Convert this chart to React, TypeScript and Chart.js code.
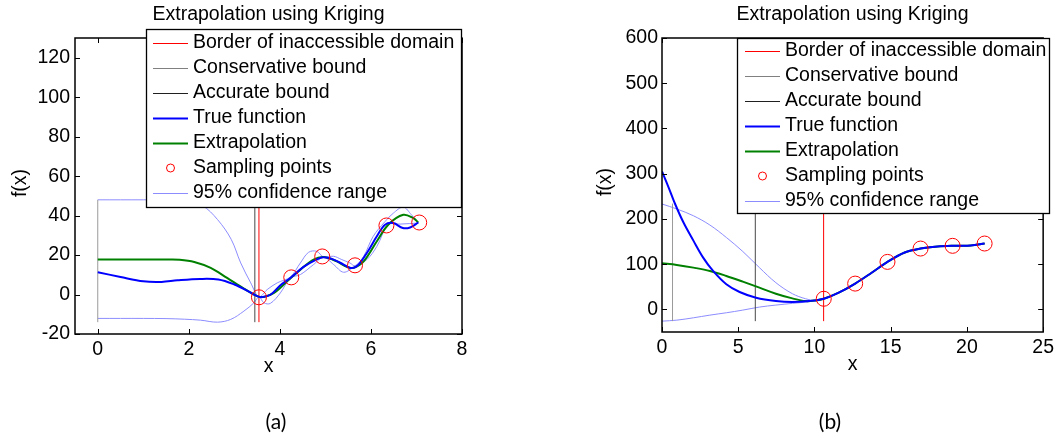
import React, { useEffect, useRef } from "react";
import { Chart, registerables } from "chart.js";

Chart.register(...registerables);

const FONT = 'Arial, "Liberation Sans", Helvetica, sans-serif';
const FSIZE = 19.5;

// ---------- Panel (a) data ----------
const xTicksA = [0, 2, 4, 6, 8];
const yTicksA = [-20, 0, 20, 40, 60, 80, 100, 120];

const trueAX = [0, 0.5, 1.0, 1.4, 1.75, 2.25, 2.65, 3.0, 3.28, 3.5, 3.62, 3.8, 4.0, 4.23, 4.52, 4.8, 4.96, 5.18, 5.4, 5.55, 5.69, 5.9, 6.13, 6.31, 6.49, 6.7, 6.86, 7.04];
const trueAY = [11.3, 8.9, 6.7, 6.4, 7.2, 7.9, 7.6, 5.1, 2.0, -0.8, -1.3, 0, 4.5, 8.4, 14, 17.7, 18.9, 17.7, 15.2, 13.5, 14.3, 20.7, 29.5, 35.4, 36.2, 33.7, 34, 36.5];

const extrapAX = [0, 0.5, 1.0, 1.5, 1.8, 2.12, 2.48, 2.84, 3.21, 3.5, 3.65, 3.87, 4.16, 4.45, 4.74, 4.96, 5.25, 5.47, 5.62, 5.84, 6.13, 6.38, 6.71, 6.93, 7.04];
const extrapAY = [17.7, 17.7, 17.7, 17.7, 17.6, 16.5, 13.5, 8.4, 3.0, -0.8, -1.2, 0.8, 6.7, 12.6, 17.7, 19, 16.8, 14, 13.5, 16.8, 27, 35.4, 40.4, 38.7, 36.5];

const ciUpAX = [0, 0.5, 1.0, 1.5, 1.9, 2.3, 2.63, 2.93, 3.14, 3.36, 3.54, 3.72, 3.94, 4.23, 4.45, 4.63, 4.81, 4.96, 5.18, 5.36, 5.54, 5.65, 5.84, 6.05, 6.31, 6.49, 6.71, 6.89, 7.04];
const ciUpAY = [48, 48, 48, 48, 47.5, 45, 38, 28, 16, 5.9, -1.2, 2.5, 5.9, 8.9, 16, 21.4, 21.9, 19, 19.4, 17.7, 16, 14.6, 19.4, 29.5, 37, 41.2, 44.3, 40.4, 36.5];

const ciLoAX = [0, 0.5, 1.0, 1.5, 1.9, 2.26, 2.63, 2.92, 3.21, 3.43, 3.54, 3.65, 3.79, 4.01, 4.23, 4.45, 4.74, 4.96, 5.18, 5.4, 5.65, 5.91, 6.13, 6.38, 6.64, 7.04];
const ciLoAY = [-12.1, -12.1, -12.1, -12.2, -12.5, -13, -14, -12.6, -8.4, -4.2, -1.2, -4.2, -4.5, 0.8, 8.4, 10.1, 15.2, 18.9, 15.2, 11.3, 14.3, 17.7, 24.4, 35.4, 35.7, 36.2];

const sampleAX = [3.54, 4.25, 4.93, 5.65, 6.34, 7.06];
const sampleAY = [-1.4, 8.7, 19.3, 14.8, 35, 36.5];

const borderAX = [3.54, 3.54];
const borderAY = [-14, 130];
const consAX = [0, 0];
const consAY = [-14, 48];
const accAX = [3.45, 3.45];
const accAY = [-14, 130];

// ---------- Panel (b) data ----------
const xTicksB = [0, 5, 10, 15, 20, 25];
const yTicksB = [0, 100, 200, 300, 400, 500, 600];

const trueBX = [0, 0.43, 0.86, 1.41, 2.06, 2.7, 3.35, 4.22, 5.09, 6.17, 7.47, 8.55, 9.64, 10.61, 11.59, 12.67, 13.75, 14.79, 15.92, 16.96, 18.08, 19.06, 20.25, 21.16];
const trueBY = [305, 270, 233, 192, 152, 114.5, 85, 55.5, 38.4, 25.8, 18.4, 16.2, 18.4, 23.5, 36.9, 57, 81, 105, 125.7, 134.5, 139, 140.5, 141, 145.6];

const extrapBX = [0, 0.97, 2.06, 3.14, 4.22, 5.3, 6.39, 7.47, 8.55, 9.42, 10.07, 10.61, 11.59, 12.67, 13.75, 14.79, 15.92, 16.96, 18.08, 19.06, 20.25, 21.16];
const extrapBY = [102, 98.3, 92.3, 85, 73.9, 61.3, 48, 34.7, 24.3, 18.4, 19.9, 23.5, 36.9, 57, 81, 105, 125.7, 134.5, 139, 140.5, 141, 145.6];

const ciUpBX = [0, 0.97, 2.06, 3.14, 4.22, 5.3, 6.39, 7.47, 8.55, 9.42, 10.07, 10.61, 11.59, 12.67, 13.75, 14.79, 15.92, 16.96, 18.08, 19.06, 20.25, 21.16];
const ciUpBY = [233, 222, 207, 186.5, 159, 128, 92.3, 59, 34.7, 23.5, 19.9, 23.5, 36.9, 57, 81, 105, 125.7, 134.5, 139, 140.5, 141, 145.6];

const ciLoBX = [0, 0.97, 2.06, 3.14, 4.22, 5.3, 6.39, 7.47, 8.55, 9.64, 10.61, 11.59, 12.67, 13.75, 14.79, 15.92, 16.96, 18.08, 19.06, 20.25, 21.16];
const ciLoBY = [-26, -23.8, -18.6, -12.7, -7.5, -1.6, 5.1, 9.5, 13.3, 16.9, 23.5, 36.9, 57, 81, 105, 125.7, 134.5, 139, 140.5, 141, 145.6];

const sampleBX = [10.61, 12.67, 14.79, 16.96, 19.06, 21.16];
const sampleBY = [23.5, 57, 105, 134.5, 140.5, 145.6];

const borderBX = [10.6, 10.6];
const borderBY = [-26, 600];
const consBX = [0.69, 0.69];
const consBY = [-26, 234];
const accBX = [6.12, 6.12];
const accBY = [-26, 600];

// ---------- Text ----------
const titleText = "Extrapolation using Kriging";
const xAxisTitle = "x";
const yAxisTitle = "f(x)";
const legendLabels = [
  "Border of inaccessible domain",
  "Conservative bound",
  "Accurate bound",
  "True function",
  "Extrapolation",
  "Sampling points",
  "95% confidence range",
];

// ---------- Styles ----------
const C_RED = "#ff0000";
const C_CONS = "#9a9a9a";
const C_ACC = "#484848";
const C_TRUE = "#0000ff";
const C_EXT = "#008000";
const C_CI = "#8c8cff";

const legendStyles = [
  { color: C_RED, width: 1.2, kind: "line" },
  { color: "#808080", width: 1.2, kind: "line" },
  { color: "#202020", width: 1.2, kind: "line" },
  { color: C_TRUE, width: 2, kind: "line" },
  { color: C_EXT, width: 2, kind: "line" },
  { color: C_RED, width: 1, kind: "circle" },
  { color: C_CI, width: 1.2, kind: "line" },
];

const pts = (xs: number[], ys: number[]) => xs.map((x, i) => ({ x, y: ys[i] }));

function lineDs(xs: number[], ys: number[], color: string, width: number, order: number, tension = 0.35) {
  return {
    data: pts(xs, ys),
    showLine: true,
    borderColor: color,
    backgroundColor: color,
    borderWidth: width,
    pointRadius: 0,
    pointHoverRadius: 0,
    tension,
    fill: false,
    order,
  };
}

const framePlugin = {
  id: "frameTicks",
  afterDatasetsDraw(chart: any) {
    const { ctx, chartArea: a, scales } = chart;
    const tl = 5;
    ctx.save();
    ctx.strokeStyle = "#000";
    ctx.lineWidth = 1;
    ctx.beginPath();
    scales.x.ticks.forEach((t: any) => {
      const px = Math.round(scales.x.getPixelForValue(t.value)) + 0.5;
      ctx.moveTo(px, a.bottom);
      ctx.lineTo(px, a.bottom - tl);
      ctx.moveTo(px, a.top);
      ctx.lineTo(px, a.top + tl);
    });
    scales.y.ticks.forEach((t: any) => {
      const py = Math.round(scales.y.getPixelForValue(t.value)) + 0.5;
      ctx.moveTo(a.left, py);
      ctx.lineTo(a.left + tl, py);
      ctx.moveTo(a.right, py);
      ctx.lineTo(a.right - tl, py);
    });
    ctx.stroke();
    ctx.lineWidth = 1.5;
    ctx.strokeRect(a.left, a.top, a.right - a.left, a.bottom - a.top);
    ctx.restore();
  },
  afterDraw(chart: any, _args: any, opts: any) {
    const { ctx, chartArea: a } = chart;
    const cx = (a.left + a.right) / 2;
    ctx.save();
    ctx.fillStyle = "#000";
    ctx.font = `${FSIZE}px ${FONT}`;
    ctx.textAlign = "center";
    ctx.textBaseline = "middle";
    ctx.fillText(titleText, cx, 15);
    ctx.fillText(xAxisTitle, cx, opts.xTitleY);
    ctx.save();
    ctx.translate(opts.yTitleX, (a.top + a.bottom) / 2 - 3);
    ctx.rotate(-Math.PI / 2);
    ctx.fillText(yAxisTitle, 0, 0);
    ctx.restore();

    // legend
    const L = opts.legend;
    ctx.fillStyle = "#fff";
    ctx.fillRect(L.left, L.top, L.right - L.left, L.bottom - L.top);
    ctx.strokeStyle = "#000";
    ctx.lineWidth = 1.3;
    ctx.strokeRect(L.left + 0.5, L.top + 0.5, L.right - L.left, L.bottom - L.top);
    ctx.textAlign = "left";
    legendLabels.forEach((lab, i) => {
      const y = L.row0 + i * 25;
      const st = legendStyles[i];
      ctx.strokeStyle = st.color;
      ctx.lineWidth = st.width;
      if (st.kind === "line") {
        ctx.beginPath();
        ctx.moveTo(L.lineX0, Math.round(y) + 0.5);
        ctx.lineTo(L.lineX1, Math.round(y) + 0.5);
        ctx.stroke();
      } else {
        ctx.beginPath();
        ctx.arc((L.lineX0 + L.lineX1) / 2, y, 4, 0, Math.PI * 2);
        ctx.stroke();
      }
      ctx.fillStyle = "#000";
      ctx.fillText(lab, L.textX, y);
    });

    // panel caption
    ctx.font = `21px Lato, "Noto Sans", sans-serif`;
    ctx.textAlign = "center";
    ctx.fillText(opts.caption, opts.captionX, 422);
    ctx.restore();
  },
};

type Spec = {
  width: number;
  padRight: number;
  xHeight: number;
  yWidth: number;
  xMin: number;
  xMax: number;
  yMin: number;
  yMax: number;
  xTicks: number[];
  yTicks: number[];
  yPad: number;
  datasets: any[];
  frame: any;
};

function makeConfig(s: Spec): any {
  return {
    type: "scatter",
    data: { datasets: s.datasets },
    plugins: [framePlugin],
    options: {
      responsive: false,
      maintainAspectRatio: false,
      animation: false,
      devicePixelRatio: 1,
      events: [],
      layout: { padding: { left: 0, right: s.padRight, top: 38, bottom: 0 } },
      plugins: {
        legend: { display: false },
        tooltip: { enabled: false },
        title: { display: false },
        frameTicks: s.frame,
      },
      scales: {
        x: {
          type: "linear",
          min: s.xMin,
          max: s.xMax,
          grid: { display: false, drawTicks: false },
          border: { display: false },
          ticks: { color: "#000", font: { family: FONT, size: FSIZE }, padding: 4, maxRotation: 0, autoSkip: false },
          afterBuildTicks: (sc: any) => {
            sc.ticks = s.xTicks.map((v) => ({ value: v }));
          },
          afterFit: (sc: any) => {
            sc.height = s.xHeight;
          },
        },
        y: {
          type: "linear",
          min: s.yMin,
          max: s.yMax,
          grid: { display: false, drawTicks: false },
          border: { display: false },
          ticks: { color: "#000", font: { family: FONT, size: FSIZE }, padding: s.yPad, autoSkip: false },
          afterBuildTicks: (sc: any) => {
            sc.ticks = s.yTicks.map((v) => ({ value: v }));
          },
          afterFit: (sc: any) => {
            sc.width = s.yWidth;
          },
        },
      },
    },
  };
}

function buildDatasets(d: any) {
  return [
    lineDs(d.ciUpX, d.ciUpY, C_CI, 1, 9),
    lineDs(d.ciLoX, d.ciLoY, C_CI, 1, 8),
    lineDs(d.consX, d.consY, C_CONS, 1, 7, 0),
    lineDs(d.accX, d.accY, C_ACC, 1, 6, 0),
    lineDs(d.borderX, d.borderY, C_RED, 1, 5, 0),
    lineDs(d.extX, d.extY, C_EXT, 2, 4),
    lineDs(d.trueX, d.trueY, C_TRUE, 2, 3),
    {
      data: pts(d.sX, d.sY),
      showLine: false,
      pointStyle: "circle",
      pointRadius: 7.5,
      pointBorderWidth: 1,
      borderColor: C_RED,
      pointBorderColor: C_RED,
      pointBackgroundColor: "rgba(0,0,0,0)",
      backgroundColor: "rgba(0,0,0,0)",
      order: 1,
    },
  ];
}

const specA: Spec = {
  width: 530,
  padRight: 68,
  xHeight: 107,
  yWidth: 75,
  xMin: -0.5,
  xMax: 8,
  yMin: -20,
  yMax: 130,
  xTicks: xTicksA,
  yTicks: yTicksA,
  yPad: 5,
  datasets: buildDatasets({
    ciUpX: ciUpAX, ciUpY: ciUpAY, ciLoX: ciLoAX, ciLoY: ciLoAY,
    consX: consAX, consY: consAY, accX: accAX, accY: accAY,
    borderX: borderAX, borderY: borderAY,
    extX: extrapAX, extY: extrapAY, trueX: trueAX, trueY: trueAY,
    sX: sampleAX, sY: sampleAY,
  }),
  frame: {
    xTitleY: 367,
    yTitleX: 21,
    caption: "(a)",
    captionX: 276,
    legend: { left: 146, top: 29, right: 461, bottom: 207, row0: 43, lineX0: 153, lineX1: 188, textX: 193 },
  },
};

const specB: Spec = {
  width: 528,
  padRight: 11,
  xHeight: 109,
  yWidth: 132,
  xMin: 0,
  xMax: 25,
  yMin: -50,
  yMax: 600,
  xTicks: xTicksB,
  yTicks: yTicksB,
  yPad: 4,
  datasets: buildDatasets({
    ciUpX: ciUpBX, ciUpY: ciUpBY, ciLoX: ciLoBX, ciLoY: ciLoBY,
    consX: consBX, consY: consBY, accX: accBX, accY: accBY,
    borderX: borderBX, borderY: borderBY,
    extX: extrapBX, extY: extrapBY, trueX: trueBX, trueY: trueBY,
    sX: sampleBX, sY: sampleBY,
  }),
  frame: {
    xTitleY: 365,
    yTitleX: 76,
    caption: "(b)",
    captionX: 300,
    legend: { left: 207, top: 38, right: 519, bottom: 213, row0: 51, lineX0: 215, lineX1: 250, textX: 255 },
  },
};

function Panel({ spec, left }: { spec: Spec; left: number }) {
  const ref = useRef<HTMLCanvasElement>(null);
  useEffect(() => {
    if (!ref.current) return;
    const chart = new Chart(ref.current, makeConfig(spec));
    return () => chart.destroy();
  }, [spec]);
  return (
    <canvas
      ref={ref}
      width={spec.width}
      height={441}
      style={{ position: "absolute", left, top: 0, width: spec.width, height: 441, display: "block" }}
    />
  );
}

export default function App() {
  return (
    <div style={{ position: "absolute", left: 0, top: 0, width: 1058, height: 441, background: "#fff", overflow: "hidden" }}>
      <Panel spec={specA} left={0} />
      <Panel spec={specB} left={530} />
    </div>
  );
}
